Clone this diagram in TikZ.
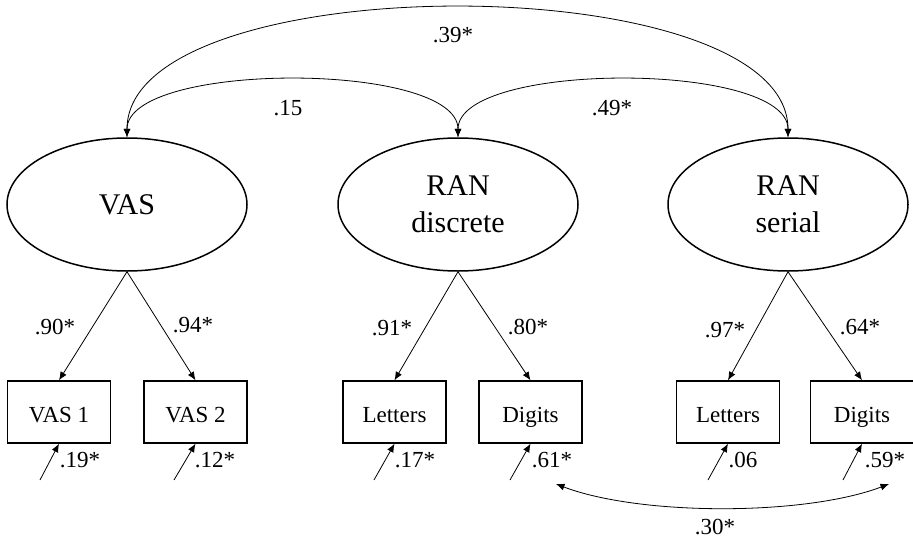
\documentclass[tikz,border=0pt]{standalone}
\usepackage{fontspec}
\setmainfont{Liberation Serif}
\usetikzlibrary{shapes.geometric,arrows.meta}
\begin{document}
\begin{tikzpicture}[x=1pt,y=-1pt,
  latent/.style={ellipse,draw,line width=1.5pt,minimum width=240pt,minimum height=133pt,inner sep=0pt,align=center,font=\fontsize{30}{37}\selectfont},
  obs/.style={rectangle,draw,line width=1.4pt,minimum width=103pt,minimum height=62pt,inner sep=0pt,text height=20pt,text depth=0pt,font=\fontsize{23}{27}\selectfont},
  lbl/.style={font=\fontsize{23}{27}\selectfont,inner sep=0pt},
  conn/.style={line width=0.8pt,-{Latex[length=8.5pt,width=7pt]}},
  cov/.style={line width=0.8pt,{Latex[length=8.5pt,width=7pt]}-{Latex[length=8.5pt,width=7pt]}}]
\useasboundingbox (0,0) rectangle (913,538);

% latent variables
\node[latent] (vas) at (127,204.5) {VAS};
\node[latent] (rand) at (458,204.5) {RAN\\discrete};
\node[latent] (rans) at (788,204.5) {RAN\\serial};

% observed variables
\node[obs] (b1) at (59,412) {VAS 1};
\node[obs] (b2) at (195.5,412) {VAS 2};
\node[obs] (b3) at (394.5,412) {Letters};
\node[obs] (b4) at (530.5,412) {Digits};
\node[obs] (b5) at (728,412) {Letters};
\node[obs] (b6) at (862,412) {Digits};

% loadings
\draw[conn] (vas.south) -- (b1.north);
\draw[conn] (vas.south) -- (b2.north);
\draw[conn] (rand.south) -- (b3.north);
\draw[conn] (rand.south) -- (b4.north);
\draw[conn] (rans.south) -- (b5.north);
\draw[conn] (rans.south) -- (b6.north);

\node[lbl] (l1) at (55,327) {.90*};
\node[lbl] (l2) at (193,325) {.94*};
\node[lbl] (l3) at (392,328) {.91*};
\node[lbl] (l4) at (528,327) {.80*};
\node[lbl] (l5) at (725,330) {.97*};
\node[lbl] (l6) at (860,327) {.64*};

% error terms
\coordinate (e1) at (40,480);
\coordinate (e2) at (174,480);
\coordinate (e3) at (374,480);
\coordinate (e4) at (510,480);
\coordinate (e5) at (708,480);
\coordinate (e6) at (843,480);
\draw[conn] (e1) -- (b1.south);
\draw[conn] (e2) -- (b2.south);
\draw[conn] (e3) -- (b3.south);
\draw[conn] (e4) -- (b4.south);
\draw[conn] (e5) -- (b5.south);
\draw[conn] (e6) -- (b6.south);

\node[lbl] (r1) at (80,460) {.19*};
\node[lbl] (r2) at (215,460) {.12*};
\node[lbl] (r3) at (415,460) {.17*};
\node[lbl] (r4) at (552,460) {.61*};
\node[lbl] (r5) at (743,460) {.06};
\node[lbl] (r6) at (885,460) {.59*};

% latent covariances
\draw[cov] (vas.north) .. controls (127,-35) and (788,-35) .. (rans.north);
\draw[cov] (vas.north) .. controls (127,61) and (458,61) .. (rand.north);
\draw[cov] (rand.north) .. controls (458,61) and (788,61) .. (rans.north);
\node[lbl] (k1) at (453,35) {.39*};
\node[lbl] (k2) at (288,108) {.15};
\node[lbl] (k3) at (612,108) {.49*};

% residual covariance
\coordinate (c1) at (556,484);
\coordinate (c2) at (889,484);
\draw[cov] (c1) .. controls (640,516) and (805,516) .. (c2);
\node[lbl] (k4) at (715,527) {.30*};
\end{tikzpicture}
\end{document}
